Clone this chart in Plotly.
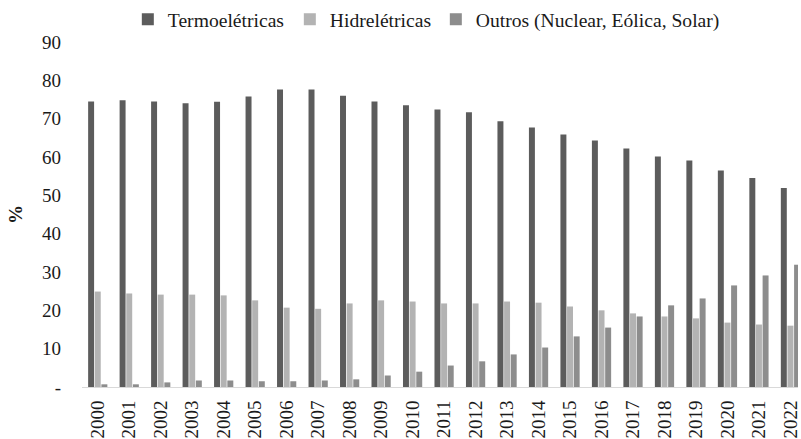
import plotly.graph_objects as go

# Share of electricity generation by source (%)
years = ["2000", "2001", "2002", "2003", "2004", "2005", "2006", "2007", "2008",
         "2009", "2010", "2011", "2012", "2013", "2014", "2015", "2016", "2017",
         "2018", "2019", "2020", "2021", "2022"]

termoeletricas = [74.5, 74.8, 74.5, 74.0, 74.4, 75.8, 77.6, 77.6, 76.0, 74.5, 73.5, 72.4,
                  71.7, 69.3, 67.7, 65.9, 64.3, 62.2, 60.1, 59.1, 56.5, 54.5, 51.9]
hidreletricas = [24.9, 24.4, 24.1, 24.1, 23.9, 22.6, 20.7, 20.4, 21.8, 22.6, 22.3, 21.8,
                 21.8, 22.3, 22.0, 21.0, 20.0, 19.2, 18.4, 17.9, 16.8, 16.3, 16.0]
outros = [0.7, 0.7, 1.2, 1.7, 1.7, 1.5, 1.5, 1.7, 2.0, 3.0, 4.0, 5.6,
          6.7, 8.5, 10.3, 13.2, 15.5, 18.4, 21.3, 23.1, 26.5, 29.1, 31.9]

series_names = ["Termoelétricas", "Hidrelétricas", "Outros (Nuclear, Eólica, Solar)"]

y_tick_vals = [0, 10, 20, 30, 40, 50, 60, 70, 80, 90]
y_tick_text = ["-", "10", "20", "30", "40", "50", "60", "70", "80", "90"]

FONT = "Liberation Serif"
TEXT = "#1a1a1a"
colors = ["#5c5c5c", "#b3b3b3", "#8d8d8d"]
legend_widths = [117, 101, None]

fig = go.Figure()
for name, values, color, lw in zip(series_names, [termoeletricas, hidreletricas, outros],
                                   colors, legend_widths):
    kwargs = {}
    if lw is not None:
        kwargs["legendwidth"] = lw
    fig.add_trace(go.Bar(
        x=years, y=values, name=name,
        marker=dict(color=color, line=dict(width=0)),
        hoverinfo="x+y+name",
        **kwargs,
    ))

fig.update_layout(
    width=801, height=439,
    margin=dict(l=82, r=0, t=42, b=52),
    paper_bgcolor="white", plot_bgcolor="white",
    barmode="group", bargap=0.368, bargroupgap=0.1,
    font=dict(family=FONT, size=19, color=TEXT),
    showlegend=True,
    legend=dict(
        orientation="h", x=0.064, xanchor="left", y=1.122, yanchor="top",
        font=dict(family=FONT, size=19.6, color=TEXT),
        bgcolor="rgba(0,0,0,0)", borderwidth=0, traceorder="normal",
    ),
    xaxis=dict(
        type="category", range=[-0.5, 22.24],
        showline=True, linecolor="#d9d9d9", linewidth=1,
        showgrid=False, zeroline=False, ticks="",
        tickangle=-90, ticklabelstandoff=5,
        tickfont=dict(family=FONT, size=19, color=TEXT),
    ),
    yaxis=dict(
        range=[0, 90], showline=False, showgrid=False, zeroline=False,
        tickvals=y_tick_vals, ticktext=y_tick_text, ticks="",
        ticklabelstandoff=20,
        tickfont=dict(family=FONT, size=19, color=TEXT),
        title=dict(text="<b>%</b>", standoff=14,
                   font=dict(family=FONT, size=19, color=TEXT)),
    ),
)

fig.write_html("out.html")
